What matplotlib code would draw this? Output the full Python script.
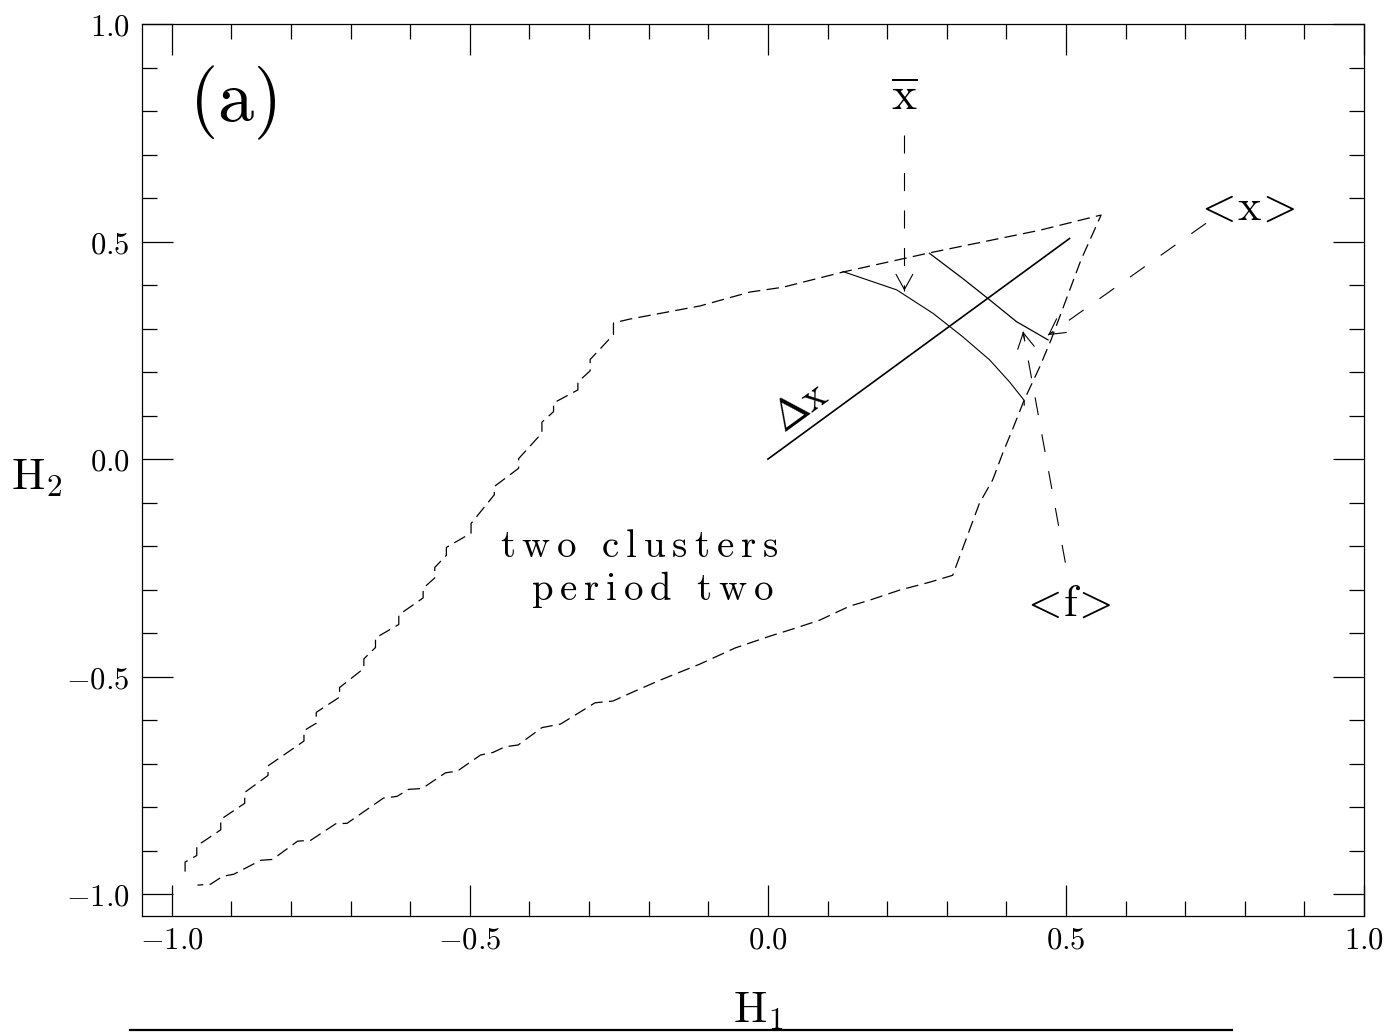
import matplotlib.pyplot as plt
from matplotlib.ticker import MultipleLocator, FuncFormatter

plt.rcParams['mathtext.fontset'] = 'cm'
plt.rcParams['lines.scale_dashes'] = False

# boundary of the two-cluster period-two region in the (H1, H2) plane
edge_h1 = [-0.9777, -0.9777, -0.9581, -0.9581, -0.9179, -0.9179, -0.8777, -0.8777,
           -0.8386, -0.8386, -0.7783, -0.7783, -0.7577, -0.7577, -0.7186, -0.7186,
           -0.6778, -0.6778, -0.6583, -0.6583, -0.6192, -0.6192, -0.5784, -0.5784,
           -0.5589, -0.5589, -0.5394, -0.5394, -0.4980, -0.4980, -0.4590, -0.4590,
           -0.4182, -0.4182, -0.3791, -0.3791, -0.3596, -0.3596, -0.3188, -0.3188,
           -0.2982, -0.2982, -0.2591, -0.2591, -0.2312,
           -0.114, -0.030, 0.025, 0.126, 0.271, 0.456, 0.559,
           0.525, 0.475, 0.456, 0.430, 0.410, 0.394, 0.377, 0.355, 0.310,
           0.271, 0.221, 0.171, 0.137, 0.087, 0.045, 0.003, -0.055, -0.114, -0.181,
           -0.231, -0.260, -0.290, -0.310, -0.348, -0.379, -0.419, -0.441, -0.461,
           -0.482, -0.521, -0.541, -0.580, -0.603, -0.622, -0.645, -0.706, -0.725,
           -0.767, -0.789, -0.831, -0.851, -0.896, -0.915, -0.935, -0.957]
edge_h2 = [-0.948, -0.926, -0.911, -0.889, -0.852, -0.828, -0.791, -0.766,
           -0.727, -0.705, -0.648, -0.624, -0.607, -0.582, -0.547, -0.525,
           -0.481, -0.459, -0.433, -0.411, -0.380, -0.358, -0.319, -0.297,
           -0.273, -0.249, -0.221, -0.203, -0.170, -0.148, -0.082, -0.063,
           -0.021, 0.001, 0.060, 0.085, 0.109, 0.129, 0.159, 0.177,
           0.203, 0.229, 0.286, 0.313, 0.322,
           0.352, 0.384, 0.395, 0.430, 0.474, 0.526, 0.561,
           0.457, 0.274, 0.212, 0.136, 0.067, 0.014, -0.048, -0.101, -0.267,
           -0.283, -0.301, -0.324, -0.338, -0.370, -0.389, -0.407, -0.434, -0.471, -0.508,
           -0.538, -0.556, -0.560, -0.577, -0.609, -0.617, -0.657, -0.661, -0.674,
           -0.680, -0.717, -0.721, -0.757, -0.759, -0.775, -0.779, -0.837, -0.838,
           -0.876, -0.878, -0.920, -0.922, -0.954, -0.959, -0.977, -0.979]

# mean-position curve (x bar) and average-position curve (<x>)
xbar_h1 = [0.126, 0.216, 0.277, 0.327, 0.372, 0.405, 0.430, 0.430]
xbar_h2 = [0.431, 0.389, 0.335, 0.281, 0.228, 0.178, 0.135, 0.124]
xavg_h1 = [0.271, 0.327, 0.372, 0.417, 0.470]
xavg_h2 = [0.473, 0.415, 0.366, 0.316, 0.274]

# separation line Delta x
dx_h1 = [0.0, 0.506]
dx_h2 = [0.0, 0.507]

# pointer arrows: (tail, tip)
arrow_xbar = ((0.229, 0.745), (0.229, 0.387))
arrow_xavg = ((0.735, 0.542), (0.470, 0.285))
arrow_favg = ((0.499, -0.238), (0.428, 0.293))

ticks = [-1.0, -0.5, 0.0, 0.5, 1.0]


def spaced(*words):
    # roman text with widened letter and word spacing
    return '$' + r'\hspace{0.75}'.join(
        r'\hspace{0.2}'.join(r'\mathrm{%s}' % c for c in w) for w in words) + '$'


fig = plt.figure(figsize=(13.88, 10.32), dpi=100)
ax = fig.add_axes([142 / 1388, 116 / 1032, 1222 / 1388, 892 / 1032])

ax.plot(edge_h1, edge_h2, color='black', lw=0.9, dashes=(9, 4.5))
ax.plot(xbar_h1, xbar_h2, color='black', lw=0.8)
ax.plot(xavg_h1, xavg_h2, color='black', lw=0.9)
ax.plot(dx_h1, dx_h2, color='black', lw=1.2)

for (tail, tip) in [arrow_xbar, arrow_xavg, arrow_favg]:
    ax.plot([tail[0], tip[0]], [tail[1], tip[1]], color='black', lw=0.8,
            dashes=(13, 14))
    back = (tip[0] + 0.03 * (tail[0] - tip[0]), tip[1] + 0.03 * (tail[1] - tip[1]))
    ax.annotate('', xy=tip, xytext=back,
                arrowprops=dict(arrowstyle='->,head_length=1.0,head_width=0.55',
                                mutation_scale=11, lw=0.8, color='black',
                                shrinkA=0, shrinkB=0))

ax.text(-0.898, 0.818, r'$(\mathrm{a})$', fontsize=52, ha='center', va='center')
ax.text(0.229, 0.830, r'$\overline{\mathrm{x}}$', fontsize=34, ha='center', va='center')
ax.text(0.799, 0.580, r'$<\!\mathrm{x}\!>$', fontsize=32, ha='center', va='center')
ax.text(0.499, -0.331, r'$<\!\mathrm{f}\!>$', fontsize=32, ha='center', va='center')
ax.text(0.054, 0.120, r'$\Delta\mathrm{x}$', fontsize=30, ha='center', va='center',
        rotation=36)
ax.text(-0.449, -0.225, spaced('two', 'clusters'), fontsize=28, ha='left', va='baseline')
ax.text(-0.397, -0.324, spaced('period', 'two'), fontsize=28, ha='left', va='baseline')

ax.set_xlim(-1.05, 1.0)
ax.set_ylim(-1.05, 1.0)
ax.set_xticks(ticks)
ax.set_yticks(ticks)
ax.xaxis.set_minor_locator(MultipleLocator(0.1))
ax.yaxis.set_minor_locator(MultipleLocator(0.1))
fmt = FuncFormatter(lambda v, pos: r'$%.1f$' % v)
ax.xaxis.set_major_formatter(fmt)
ax.yaxis.set_major_formatter(fmt)
ax.tick_params(which='both', direction='in', top=True, right=True, width=0.9,
               labelsize=22)
ax.tick_params(which='major', length=22)
ax.tick_params(which='minor', length=11)
ax.tick_params(axis='x', pad=7)
ax.tick_params(axis='y', pad=9)
for s in ax.spines.values():
    s.set_linewidth(0.9)

fig.text(37 / 1388, 1 - 478 / 1032, r'$\mathrm{H}_2$', fontsize=32, ha='center', va='center')
fig.text(758 / 1388, 1 - 1010 / 1032, r'$\mathrm{H}_1$', fontsize=32, ha='center', va='center')
fig.add_artist(plt.Line2D([130 / 1388, 1232 / 1388], [2 / 1032, 2 / 1032],
                          transform=fig.transFigure, color='black', lw=1.6))

fig.savefig('out.png', dpi=100)
